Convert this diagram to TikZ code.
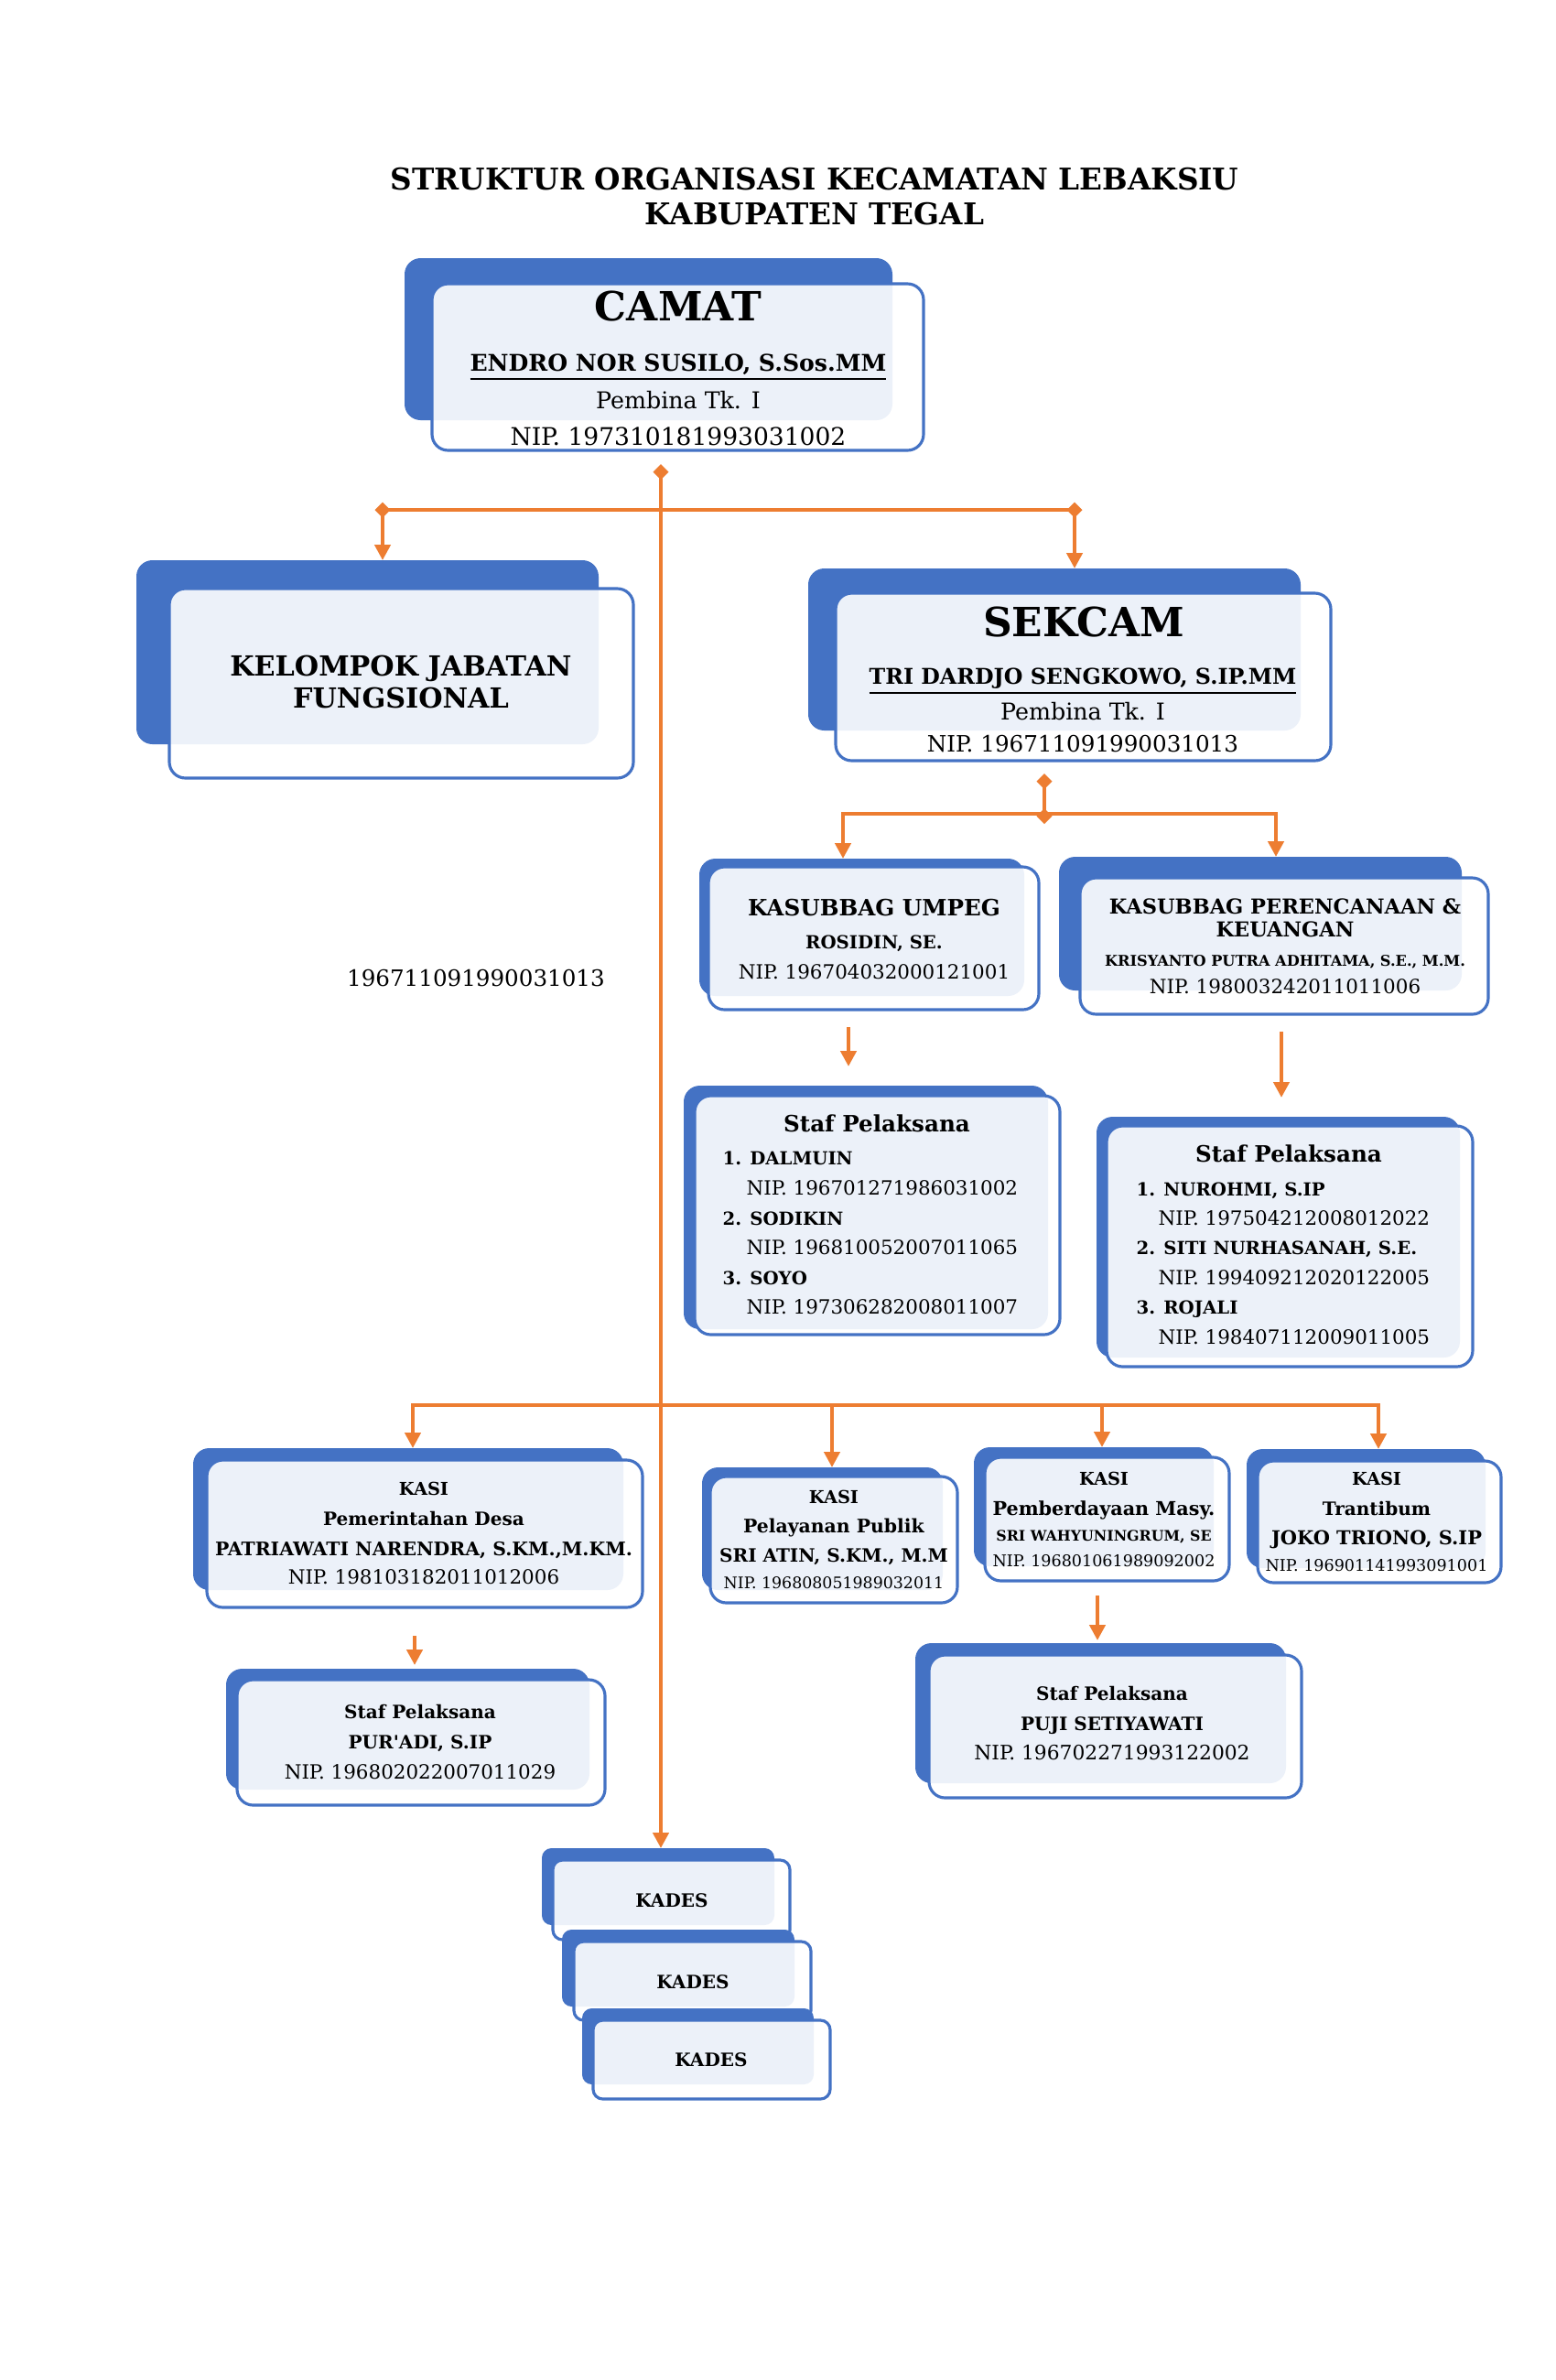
\documentclass[tikz,border=0pt]{standalone}
\usepackage{fontspec}
\setmainfont{DejaVu Serif}
\usetikzlibrary{arrows.meta,fit}
\definecolor{cBlue}{HTML}{4472C4}
\definecolor{cOrange}{HTML}{ED7D31}
\newcommand{\fsz}[1]{\fontsize{#1}{#1}\selectfont}
\tikzset{
  back/.style={fill=cBlue, rounded corners=5pt, inner sep=0pt, outer sep=0pt},
  front/.style={draw=cBlue, line width=0.9pt, fill=white, fill opacity=0.9, rounded corners=5pt, inner sep=0pt, outer sep=0pt},
  txt/.style={anchor=base, inner sep=0pt},
  txtl/.style={anchor=base west, inner sep=0pt},
  conn/.style={draw=cOrange, line width=1.3pt},
  tri/.style={-{Triangle[width=0.17cm,length=0.17cm]}},
  tritri/.style={{Triangle[width=0.17cm,length=0.17cm]}-{Triangle[width=0.17cm,length=0.17cm]}},
  dia/.style={{Diamond[width=0.17cm,length=0.17cm]}-{Triangle[width=0.17cm,length=0.17cm]}},
  diadia/.style={{Diamond[width=0.17cm,length=0.17cm]}-{Diamond[width=0.17cm,length=0.17cm]}}
}
\begin{document}
\begin{tikzpicture}
  \useasboundingbox (0,0) rectangle (17,-26);
  \fill[white] (0,0) rectangle (17,-26);

  % judul
  \node[txt, font={\fsz{9.3}\bfseries}] (title-1) at (8.90,-2.07) {STRUKTUR ORGANISASI KECAMATAN LEBAKSIU};
  \node[txt, font={\fsz{9.3}\bfseries}] (title-2) at (8.90,-2.45) {KABUPATEN TEGAL};

  % kotak-kotak
  \node[back, fit={(4.42,-2.82) (9.75,-4.59)}] (camat-b) {};
  \node[front, fit={(4.72,-3.10) (10.09,-4.92)}] (camat) {};
  \node[back, fit={(1.49,-6.12) (6.54,-8.13)}] (kjf-b) {};
  \node[front, fit={(1.85,-6.43) (6.92,-8.50)}] (kjf) {};
  \node[back, fit={(8.83,-6.21) (14.21,-7.98)}] (sekcam-b) {};
  \node[front, fit={(9.13,-6.48) (14.54,-8.31)}] (sekcam) {};
  \node[back, fit={(7.64,-9.38) (11.19,-10.88)}] (umpeg-b) {};
  \node[front, fit={(7.74,-9.47) (11.35,-11.03)}] (umpeg) {};
  \node[back, fit={(11.57,-9.36) (15.97,-10.82)}] (renkeu-b) {};
  \node[front, fit={(11.80,-9.59) (16.26,-11.08)}] (renkeu) {};
  \node[back, fit={(7.47,-11.86) (11.45,-14.52)}] (stafumpeg-b) {};
  \node[front, fit={(7.59,-11.97) (11.58,-14.58)}] (stafumpeg) {};
  \node[back, fit={(11.98,-12.20) (15.95,-14.83)}] (stafrenkeu-b) {};
  \node[front, fit={(12.09,-12.30) (16.09,-14.93)}] (stafrenkeu) {};
  \node[back, fit={(2.11,-15.82) (6.81,-17.37)}] (pemdes-b) {};
  \node[front, fit={(2.26,-15.95) (7.02,-17.56)}] (pemdes) {};
  \node[back, fit={(7.67,-16.03) (10.30,-17.37)}] (pelpub-b) {};
  \node[front, fit={(7.76,-16.13) (10.46,-17.51)}] (pelpub) {};
  \node[back, fit={(10.64,-15.81) (13.26,-17.11)}] (pemmas-b) {};
  \node[front, fit={(10.76,-15.92) (13.43,-17.27)}] (pemmas) {};
  \node[back, fit={(13.62,-15.83) (16.23,-17.13)}] (trantib-b) {};
  \node[front, fit={(13.74,-15.96) (16.40,-17.29)}] (trantib) {};
  \node[back, fit={(2.47,-18.23) (6.44,-19.55)}] (stafpemdes-b) {};
  \node[front, fit={(2.59,-18.35) (6.61,-19.72)}] (stafpemdes) {};
  \node[back, fit={(10.00,-17.95) (14.05,-19.48)}] (stafpemmas-b) {};
  \node[front, fit={(10.15,-18.08) (14.22,-19.64)}] (stafpemmas) {};
  \node[back, rounded corners=3pt, fit={(5.92,-20.19) (8.46,-21.03)}] (kades1-b) {};
  \node[front, rounded corners=3pt, fit={(6.04,-20.32) (8.63,-21.19)}] (kades1) {};
  \node[back, rounded corners=3pt, fit={(6.14,-21.08) (8.68,-21.92)}] (kades2-b) {};
  \node[front, rounded corners=3pt, fit={(6.27,-21.21) (8.86,-22.07)}] (kades2) {};
  \node[back, rounded corners=3pt, fit={(6.36,-21.94) (8.89,-22.77)}] (kades3-b) {};
  \node[front, rounded corners=3pt, fit={(6.48,-22.07) (9.07,-22.93)}] (kades3) {};

  % camat
  \node[txt, font={\fsz{12.5}\bfseries}] (camat-1) at (7.41,-3.50) {CAMAT};
  \node[txt, font={\fsz{7.15}\bfseries}] (camat-2) at (7.41,-4.05) {\underline{ENDRO NOR SUSILO, S.Sos.MM}};
  \node[txt, font=\fsz{7.2}] (camat-3) at (7.41,-4.46) {Pembina Tk. I};
  \node[txt, font=\fsz{7.55}] (camat-4) at (7.41,-4.86) {NIP. 197310181993031002};

  % kelompok jabatan fungsional
  \node[txt, font={\fsz{8.6}\bfseries}] (kjf-1) at (4.38,-7.38) {KELOMPOK JABATAN};
  \node[txt, font={\fsz{8.6}\bfseries}] (kjf-2) at (4.38,-7.73) {FUNGSIONAL};

  % sekcam
  \node[txt, font={\fsz{12.5}\bfseries}] (sekcam-1) at (11.84,-6.95) {SEKCAM};
  \node[txt, font={\fsz{6.75}\bfseries}] (sekcam-2) at (11.83,-7.47) {\underline{TRI DARDJO SENGKOWO, S.IP.MM}};
  \node[txt, font=\fsz{7.2}] (sekcam-3) at (11.83,-7.86) {Pembina Tk. I};
  \node[txt, font=\fsz{7.0}] (sekcam-4) at (11.83,-8.21) {NIP. 196711091990031013};

  \node[txt, font=\fsz{7}] (nip-lepas) at (5.20,-10.77) {196711091990031013};

  % kasubbag
  \node[txt, font={\fsz{7.0}\bfseries}] (umpeg-1) at (9.55,-10.00) {KASUBBAG UMPEG};
  \node[txt, font={\fsz{5.6}\bfseries}] (umpeg-2) at (9.55,-10.36) {ROSIDIN, SE.};
  \node[txt, font=\fsz{6.1}] (umpeg-3) at (9.55,-10.69) {NIP. 196704032000121001};
  \node[txt, font={\fsz{6.4}\bfseries}] (renkeu-1) at (14.04,-9.98) {KASUBBAG PERENCANAAN \&};
  \node[txt, font={\fsz{6.4}\bfseries}] (renkeu-2) at (14.04,-10.23) {KEUANGAN};
  \node[txt, font={\fsz{4.6}\bfseries}] (renkeu-3) at (14.04,-10.55) {KRISYANTO PUTRA ADHITAMA, S.E., M.M.};
  \node[txt, font=\fsz{6.1}] (renkeu-4) at (14.04,-10.85) {NIP. 198003242011011006};

  % staf kasubbag
  \node[txt, font={\fsz{7.0}\bfseries}] (stafumpeg-1) at (9.58,-12.36) {Staf Pelaksana};
  \node[txtl, font={\fsz{5.6}\bfseries}] (stafumpeg-2) at (7.89,-12.72) {1. DALMUIN};
  \node[txtl, font=\fsz{6.1}] (stafumpeg-3) at (8.15,-13.05) {NIP. 196701271986031002};
  \node[txtl, font={\fsz{5.6}\bfseries}] (stafumpeg-4) at (7.89,-13.38) {2. SODIKIN};
  \node[txtl, font=\fsz{6.1}] (stafumpeg-5) at (8.15,-13.70) {NIP. 196810052007011065};
  \node[txtl, font={\fsz{5.6}\bfseries}] (stafumpeg-6) at (7.89,-14.03) {3. SOYO};
  \node[txtl, font=\fsz{6.1}] (stafumpeg-7) at (8.15,-14.35) {NIP. 197306282008011007};
  \node[txt, font={\fsz{7.0}\bfseries}] (stafrenkeu-1) at (14.08,-12.69) {Staf Pelaksana};
  \node[txtl, font={\fsz{5.6}\bfseries}] (stafrenkeu-2) at (12.41,-13.06) {1. NUROHMI, S.IP};
  \node[txtl, font=\fsz{6.1}] (stafrenkeu-3) at (12.65,-13.38) {NIP. 197504212008012022};
  \node[txtl, font={\fsz{5.6}\bfseries}] (stafrenkeu-4) at (12.41,-13.70) {2. SITI NURHASANAH, S.E.};
  \node[txtl, font=\fsz{6.1}] (stafrenkeu-5) at (12.65,-14.03) {NIP. 199409212020122005};
  \node[txtl, font={\fsz{5.6}\bfseries}] (stafrenkeu-6) at (12.41,-14.35) {3. ROJALI};
  \node[txtl, font=\fsz{6.1}] (stafrenkeu-7) at (12.65,-14.68) {NIP. 198407112009011005};

  % kasi
  \node[txt, font={\fsz{5.5}\bfseries}] (pemdes-1) at (4.63,-16.33) {KASI};
  \node[txt, font={\fsz{5.7}\bfseries}] (pemdes-2) at (4.63,-16.66) {Pemerintahan Desa};
  \node[txt, font={\fsz{5.8}\bfseries}] (pemdes-3) at (4.63,-16.99) {PATRIAWATI NARENDRA, S.KM.,M.KM.};
  \node[txt, font=\fsz{6.1}] (pemdes-4) at (4.63,-17.30) {NIP. 198103182011012006};
  \node[txt, font={\fsz{5.5}\bfseries}] (pelpub-1) at (9.11,-16.42) {KASI};
  \node[txt, font={\fsz{5.8}\bfseries}] (pelpub-2) at (9.11,-16.74) {Pelayanan Publik};
  \node[txt, font={\fsz{5.7}\bfseries}] (pelpub-3) at (9.11,-17.06) {SRI ATIN, S.KM., M.M};
  \node[txt, font=\fsz{4.95}] (pelpub-4) at (9.11,-17.35) {NIP. 196808051989032011};
  \node[txt, font={\fsz{5.5}\bfseries}] (pemmas-1) at (12.06,-16.22) {KASI};
  \node[txt, font={\fsz{5.9}\bfseries}] (pemmas-2) at (12.06,-16.55) {Pemberdayaan Masy.};
  \node[txt, font={\fsz{4.5}\bfseries}] (pemmas-3) at (12.06,-16.83) {SRI WAHYUNINGRUM, SE};
  \node[txt, font=\fsz{5.0}] (pemmas-4) at (12.06,-17.11) {NIP. 196801061989092002};
  \node[txt, font={\fsz{5.5}\bfseries}] (trantib-1) at (15.04,-16.22) {KASI};
  \node[txt, font={\fsz{5.7}\bfseries}] (trantib-2) at (15.04,-16.55) {Trantibum};
  \node[txt, font={\fsz{5.95}\bfseries}] (trantib-3) at (15.04,-16.87) {JOKO TRIONO, S.IP};
  \node[txt, font=\fsz{5.0}] (trantib-4) at (15.04,-17.16) {NIP. 196901141993091001};

  % staf kasi
  \node[txt, font={\fsz{5.7}\bfseries}] (stafpemdes-1) at (4.59,-18.77) {Staf Pelaksana};
  \node[txt, font={\fsz{5.7}\bfseries}] (stafpemdes-2) at (4.59,-19.10) {PUR\textquotesingle ADI, S.IP};
  \node[txt, font=\fsz{6.1}] (stafpemdes-3) at (4.59,-19.43) {NIP. 196802022007011029};
  \node[txt, font={\fsz{5.7}\bfseries}] (stafpemmas-1) at (12.15,-18.57) {Staf Pelaksana};
  \node[txt, font={\fsz{5.7}\bfseries}] (stafpemmas-2) at (12.15,-18.90) {PUJI SETIYAWATI};
  \node[txt, font=\fsz{6.2}] (stafpemmas-3) at (12.15,-19.22) {NIP. 196702271993122002};

  % kades
  \node[txt, font={\fsz{5.7}\bfseries}] (kades1-1) at (7.34,-20.83) {KADES};
  \node[txt, font={\fsz{5.7}\bfseries}] (kades2-1) at (7.57,-21.72) {KADES};
  \node[txt, font={\fsz{5.7}\bfseries}] (kades3-1) at (7.77,-22.57) {KADES};

  % garis
  \coordinate (camat-d) at (7.22,-5.07);
  \coordinate (kjf-d) at (4.18,-5.485);
  \coordinate (sekcam-d) at (11.74,-5.485);
  \coordinate (sekcam-j) at (11.41,-8.45);
  \coordinate (sekcam-k) at (11.41,-9.00);
  \coordinate (umpeg-j) at (9.21,-8.89);
  \coordinate (renkeu-j) at (13.94,-8.89);
  \coordinate (umpeg-s) at (9.27,-11.22);
  \coordinate (renkeu-s) at (14.00,-11.27);
  \coordinate (pemdes-j) at (4.51,-15.35);
  \coordinate (pelpub-j) at (9.09,-15.35);
  \coordinate (pemmas-j) at (12.04,-15.35);
  \coordinate (trantib-j) at (15.06,-15.35);
  \coordinate (pemdes-s) at (4.53,-17.87);
  \coordinate (pemmas-s) at (11.99,-17.43);

  \draw[conn, dia] (camat-d) -- (camat-d |- kades1-b.north);
  \draw[conn] ([yshift=-0.085cm]kjf-d) -- ([yshift=-0.085cm]sekcam-d);
  \draw[conn, dia] (kjf-d) -- (kjf-d |- kjf-b.north);
  \draw[conn, dia] (sekcam-d) -- (sekcam-d |- sekcam-b.north);
  \draw[conn, diadia] (sekcam-j) -- (sekcam-k);
  \draw[conn, tritri] (umpeg-j |- umpeg-b.north) -- (umpeg-j) -- (renkeu-j) -- (renkeu-j |- renkeu-b.north);
  \draw[conn, tri] (umpeg-s) -- ([yshift=0.21cm]umpeg-s |- stafumpeg-b.north);
  \draw[conn, tri] (renkeu-s) -- ([yshift=0.21cm]renkeu-s |- stafrenkeu-b.north);
  \draw[conn, tritri] (pemdes-j |- pemdes-b.north) -- (pemdes-j) -- (trantib-j) -- (trantib-j |- trantib-b.north);
  \draw[conn, tri] (pelpub-j) -- (pelpub-j |- pelpub-b.north);
  \draw[conn, tri] (pemmas-j) -- (pemmas-j |- pemmas-b.north);
  \draw[conn, tri] (pemdes-s) -- ([yshift=0.04cm]pemdes-s |- stafpemdes-b.north);
  \draw[conn, tri] (pemmas-s) -- ([yshift=0.03cm]pemmas-s |- stafpemmas-b.north);
\end{tikzpicture}
\end{document}
